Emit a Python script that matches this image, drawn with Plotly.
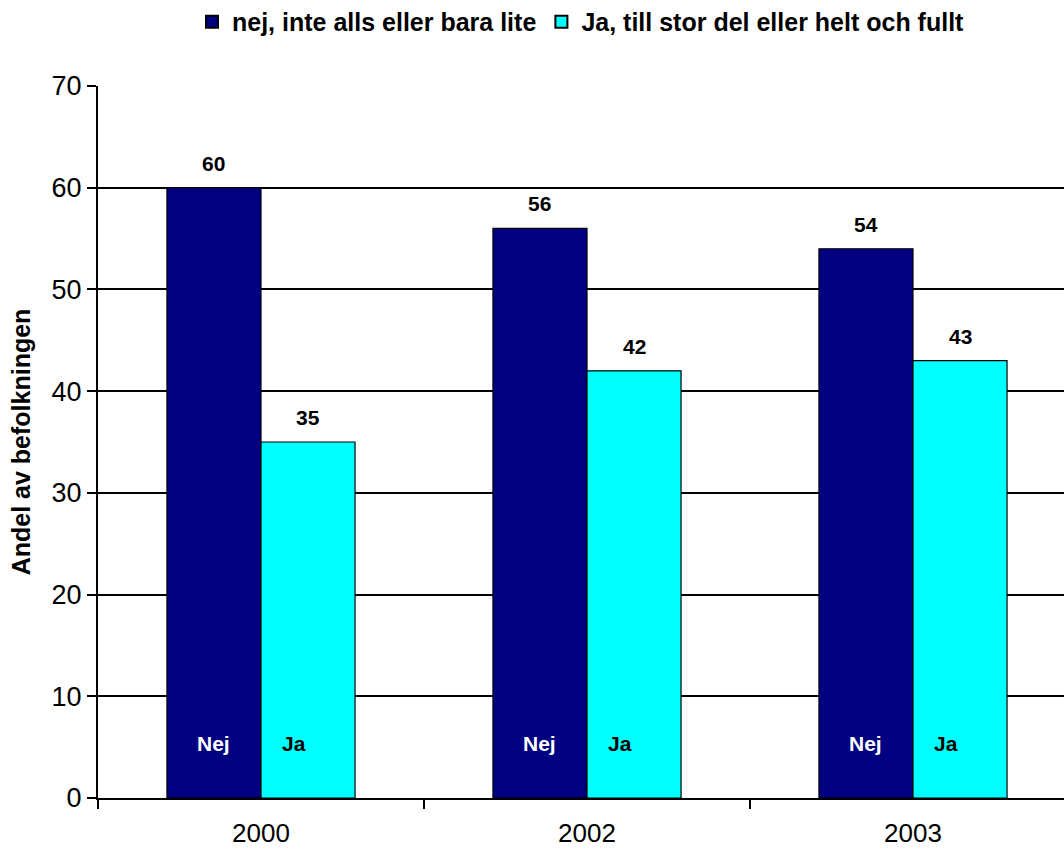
import plotly.graph_objects as go

years = ["2000", "2002", "2003"]
nej = [60, 56, 54]
ja = [35, 42, 43]
series_names = ["nej, inte alls eller bara lite", "Ja, till stor del eller helt och fullt"]
inner_labels = ["Nej", "Ja"]
y_ticks = [0, 10, 20, 30, 40, 50, 60, 70]

NAVY = "#000080"
CYAN = "#00FFFF"
FONT = "Liberation Sans, Arial, sans-serif"

BARGAP = 0.423
half = (1 - BARGAP) / 4  # centre offset of each bar inside a category

fig = go.Figure()
fig.add_trace(go.Bar(x=years, y=nej, name=series_names[0],
                     marker=dict(color=NAVY, line=dict(color="black", width=1.2))))
fig.add_trace(go.Bar(x=years, y=ja, name=series_names[1],
                     marker=dict(color=CYAN, line=dict(color="black", width=1.2))))

annotations = []
for i in range(len(years)):
    for vals, off in ((nej, -half), (ja, half)):
        annotations.append(dict(x=i + off, y=vals[i], xref="x", yref="y",
                                text=f"<b>{vals[i]}</b>", showarrow=False,
                                yanchor="bottom", yshift=11,
                                font=dict(family=FONT, size=21, color="black")))
    annotations.append(dict(x=i - half, y=5.4, xref="x", yref="y",
                            text=f"<b>{inner_labels[0]}</b>", showarrow=False,
                            font=dict(family=FONT, size=21, color="white")))
    annotations.append(dict(x=i + half, y=5.4, xref="x", yref="y", xshift=-14,
                            text=f"<b>{inner_labels[1]}</b>", showarrow=False,
                            font=dict(family=FONT, size=21, color="black")))

plot_left, plot_right = 98, 1064
cat_px = 326
x_span = (plot_right - plot_left) / cat_px

fig.update_layout(
    width=1064, height=850,
    margin=dict(l=plot_left, r=0, t=86, b=52, autoexpand=False),
    paper_bgcolor="white", plot_bgcolor="white",
    barmode="group", bargap=BARGAP, bargroupgap=0,
    font=dict(family=FONT, color="black"),
    showlegend=True,
    legend=dict(orientation="h", x=0.5, xanchor="center", y=1.09, yanchor="middle",
                font=dict(family=FONT, size=25, color="black", weight="bold"),
                itemsizing="constant", traceorder="normal", bgcolor="rgba(0,0,0,0)",
                itemwidth=30),
    annotations=annotations,
    xaxis=dict(type="category", range=[-0.5, -0.5 + x_span],
               tickson="boundaries", ticks="outside", ticklen=9, tickwidth=2,
               tickcolor="black", showline=True, linecolor="black", linewidth=2,
               showgrid=False, tickfont=dict(family=FONT, size=26, color="black"),
               ticklabelstandoff=11),
    yaxis=dict(range=[0, 70], tickvals=y_ticks, ticks="outside", ticklen=9,
               tickwidth=2, tickcolor="black", showline=True, linecolor="black",
               linewidth=2, showgrid=True, gridcolor="black", gridwidth=1.5,
               zeroline=False,
               tickfont=dict(family=FONT, size=27, color="black"),
               title=dict(text="<b>Andel av befolkningen</b>", standoff=14,
                          font=dict(family=FONT, size=25, color="black"))),
)

fig.write_html("out.html")
